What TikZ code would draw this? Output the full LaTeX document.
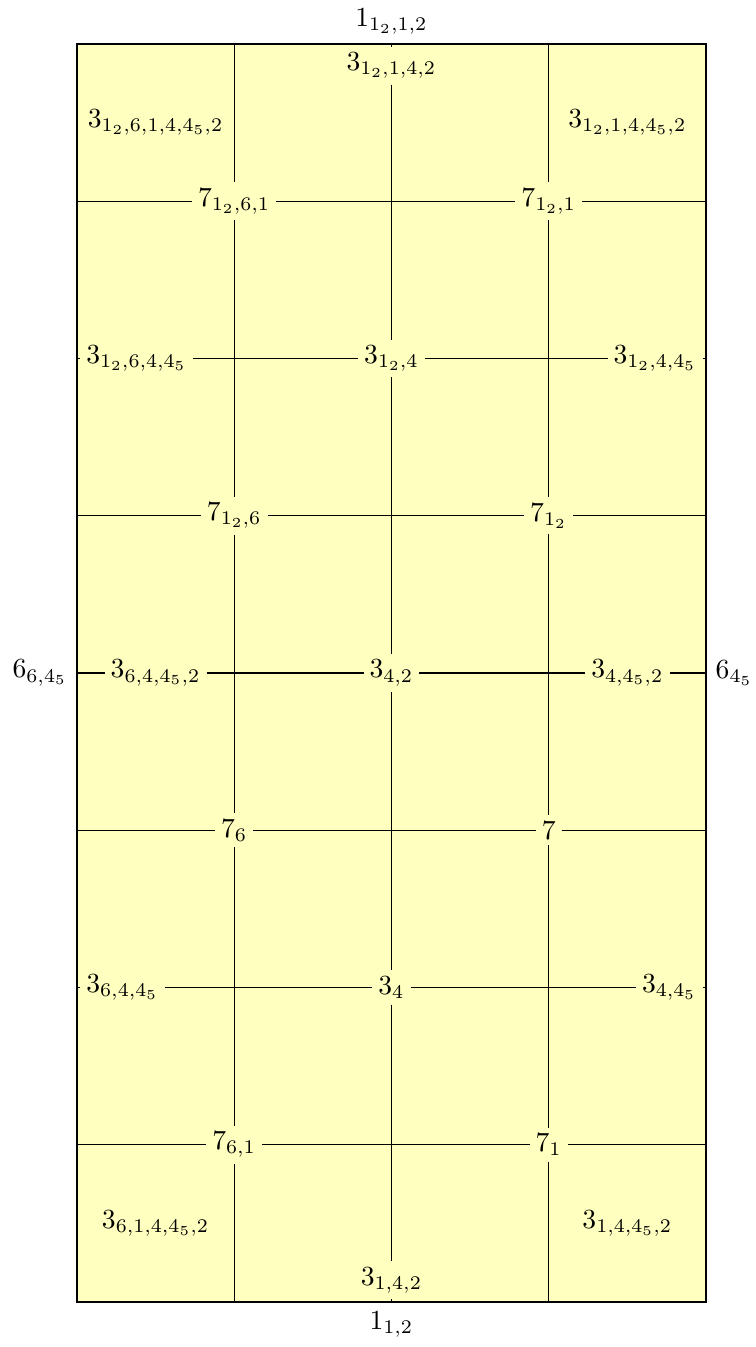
\documentclass[tikz,border=0pt]{standalone}
\usepackage{tikz}
\usetikzlibrary{positioning}
\tikzset{
    celllabel/.style={rectangle, fill=cellyellow, inner sep=2pt, font=\normalsize},
    edgelabel/.style={rectangle, inner sep=3.33pt, font=\normalsize},
    gridline/.style={draw=black, line width=0.4pt},
    boxframe/.style={draw=black, fill=cellyellow, line width=0.45pt}
}
\definecolor{cellyellow}{RGB}{255,255,192}

\begin{document}
\begin{tikzpicture}[x=2cm, y=2cm]
\useasboundingbox (-0.979cm,-0.572cm) rectangle (8.636cm,16.560cm);

\draw[boxframe] (0,0) rectangle (4,8);

% points on the frame
\foreach \i in {1,2,3} {
    \coordinate (n\i) at (\i,8);
    \coordinate (s\i) at (\i,0);
}
\foreach \j in {1,...,7} {
    \coordinate (w\j) at (0,\j);
    \coordinate (e\j) at (4,\j);
}

\node[celllabel] (c1) at (0.5,7.5) {$3_{1_2,6,1,4,4_5,2}$};
\node[celllabel] (c2) at (3.5,7.5) {$3_{1_2,1,4,4_5,2}$};
\node[celllabel, below=1pt of n2] (tm) {$3_{1_2,1,4,2}$};
\node[celllabel] (k71) at (1,7) {$7_{1_2,6,1}$};
\node[celllabel] (k73) at (3,7) {$7_{1_2,1}$};
\node[celllabel, right=1.2pt of w6] (h6a) {$3_{1_2,6,4,4_5}$};
\node[celllabel] (h6b) at (2,6) {$3_{1_2,4}$};
\node[celllabel, left=1.2pt of e6] (h6c) {$3_{1_2,4,4_5}$};
\node[celllabel] (k51) at (1,5) {$7_{1_2,6}$};
\node[celllabel] (k53) at (3,5) {$7_{1_2}$};
\node[celllabel] (h4a) at (0.5,4) {$3_{6,4,4_5,2}$};
\node[celllabel] (h4b) at (2,4) {$3_{4,2}$};
\node[celllabel] (h4c) at (3.5,4) {$3_{4,4_5,2}$};
\node[celllabel] (k31) at (1,3) {$7_6$};
\node[celllabel] (k33) at (3,3) {$7$};
\node[celllabel, right=1.2pt of w2] (h2a) {$3_{6,4,4_5}$};
\node[celllabel] (h2b) at (2,2) {$3_4$};
\node[celllabel, left=1.2pt of e2] (h2c) {$3_{4,4_5}$};
\node[celllabel] (k11) at (1,1) {$7_{6,1}$};
\node[celllabel] (k13) at (3,1) {$7_1$};
\node[celllabel] (c3) at (0.5,0.5) {$3_{6,1,4,4_5,2}$};
\node[celllabel] (c4) at (3.5,0.5) {$3_{1,4,4_5,2}$};
\node[celllabel, above=1pt of s2] (bm) {$3_{1,4,2}$};

% outside the frame
\node[edgelabel, above=0pt of n2] (o1) {$1_{1_2,1,2}$};
\node[edgelabel, below=0pt of s2] (o2) {$1_{1,2}$};
\node[edgelabel, left=0pt of w4] (o3) {$6_{6,4_5}$};
\node[edgelabel, right=0pt of e4] (o4) {$6_{4_5}$};

\draw[gridline] (n1) -- (k71) -- (k51) -- (k31) -- (k11) -- (s1);
\draw[gridline] (n2) -- (tm) -- (h6b) -- (h4b) -- (h2b) -- (bm) -- (s2);
\draw[gridline] (n3) -- (k73) -- (k53) -- (k33) -- (k13) -- (s3);
\draw[gridline] (w7) -- (k71) -- (k73) -- (e7);
\draw[gridline] (w6) -- (h6a) -- (h6b) -- (h6c) -- (e6);
\draw[gridline] (w5) -- (k51) -- (k53) -- (e5);
\draw[gridline] (w4) -- (h4a) -- (h4b) -- (h4c) -- (e4);
\draw[gridline] (w3) -- (k31) -- (k33) -- (e3);
\draw[gridline] (w2) -- (h2a) -- (h2b) -- (h2c) -- (e2);
\draw[gridline] (w1) -- (k11) -- (k13) -- (e1);

\end{tikzpicture}
\end{document}
